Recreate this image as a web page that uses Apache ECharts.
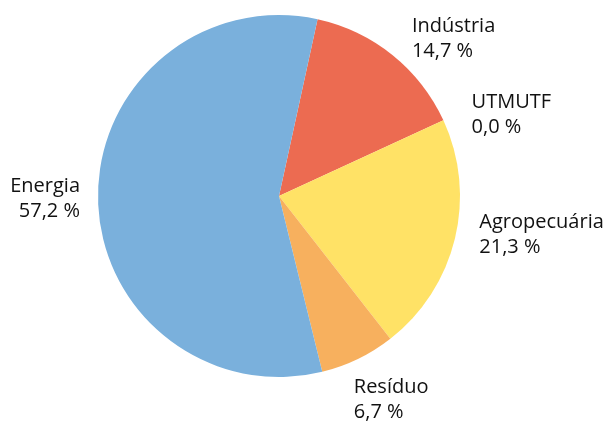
<!DOCTYPE html>
<html lang="pt">
<head>
    <meta charset="UTF-8">
    <title>Emissões por setor</title>
    <script src="https://cdn.jsdelivr.net/npm/echarts@6/dist/echarts.min.js"></script>
    <style>
        html, body { margin: 0; padding: 0; background: #fff; }
        #main { width: 607px; height: 425px; }
    </style>
</head>
<body>
<div id="main"></div>
<script>
    // setores, na ordem horária a partir de Indústria
    var setores = ['Indústria', 'UTMUTF', 'Agropecuária', 'Resíduo', 'Energia'];
    var percentuais = [14.7, 0.0, 21.3, 6.7, 57.2];
    var cores = ['#ec6b51', '#ec6b51', '#ffe266', '#f7b05e', '#7ab0dc'];
    // pequenos ajustes dos rótulos (dx, dy)
    var ajustes = [[-4, -1], [-1, 3], [-6, -9], [-24, 23], [13, 0]];

    var myChart = echarts.init(document.getElementById('main'));
    var dados = setores.map(function (s, i) {
        return { name: s, value: percentuais[i], itemStyle: { color: cores[i] } };
    });

    myChart.setOption({
        animation: false,
        series: [{
            type: 'pie',
            center: [279, 196],
            radius: 181,
            startAngle: 77.7,
            clockwise: true,
            avoidLabelOverlap: false,
            data: dados,
            label: {
                show: true,
                position: 'outside',
                fontFamily: 'Open Sans',
                fontSize: 20,
                lineHeight: 25,
                color: '#111',
                formatter: function (p) {
                    return p.name + '\n' + p.value.toFixed(1).replace('.', ',') + ' %';
                }
            },
            labelLine: { show: false, length: 20, length2: 6 },
            labelLayout: function (p) {
                var a = ajustes[p.dataIndex];
                return { dx: a[0], dy: a[1] };
            },
            emphasis: { disabled: true }
        }]
    });
</script>
</body>
</html>
